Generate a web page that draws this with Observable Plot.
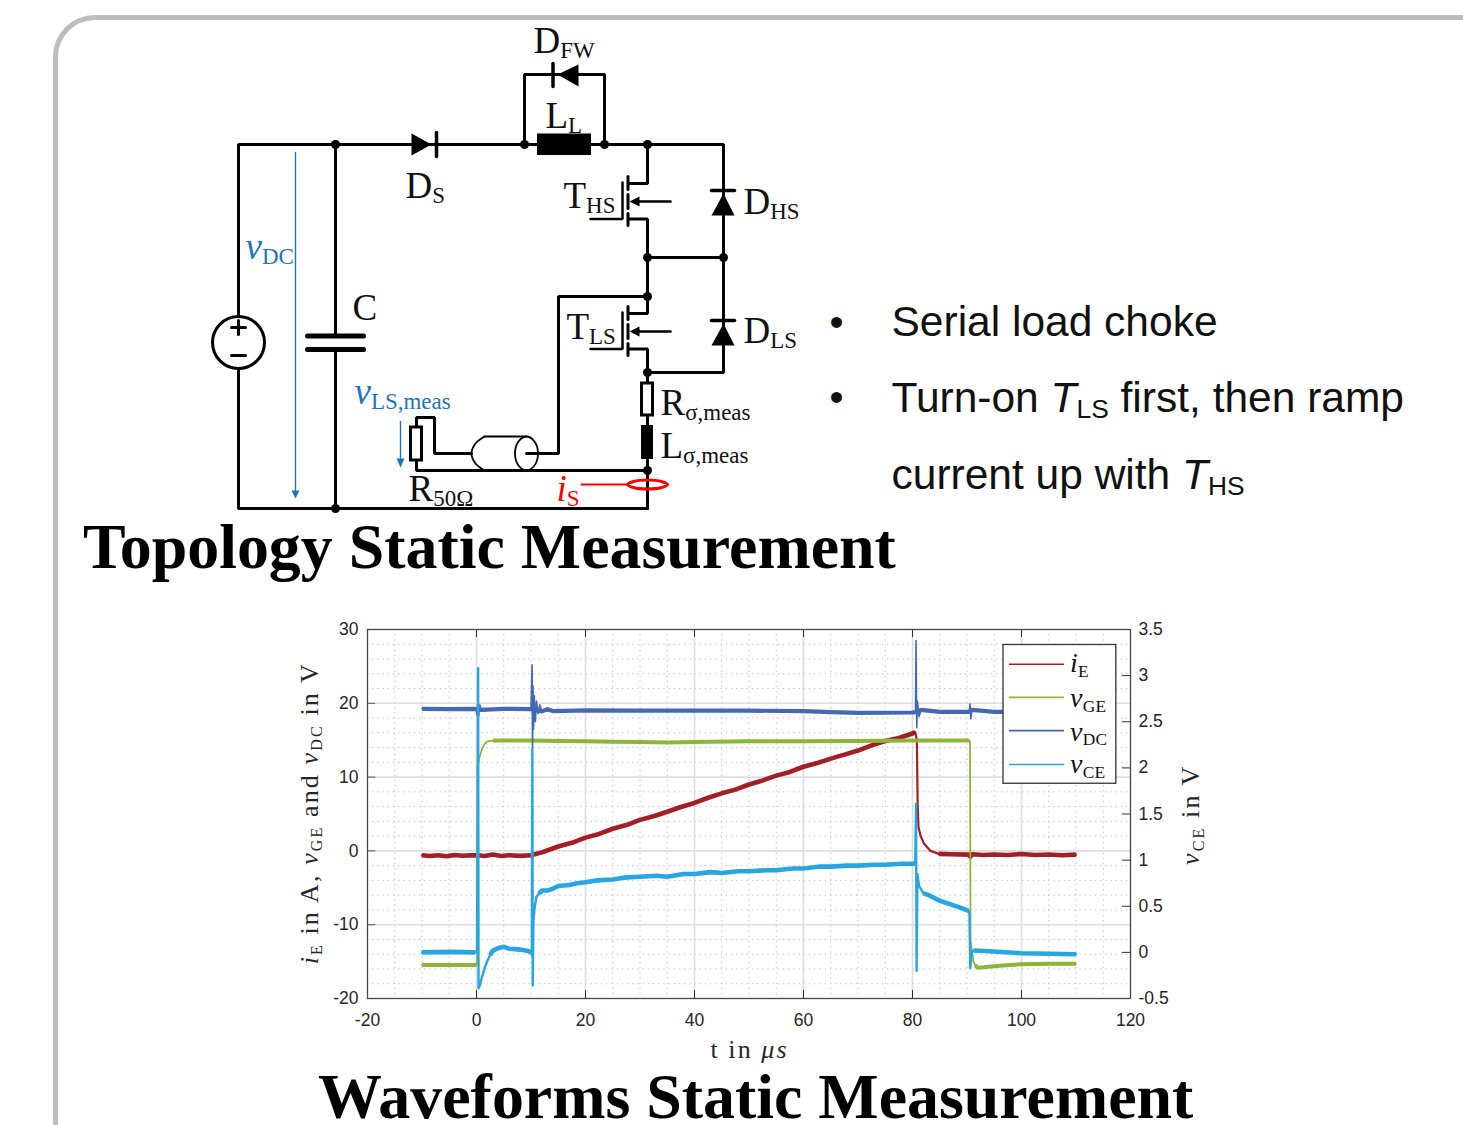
<!DOCTYPE html>
<html>
<head>
<meta charset="utf-8">
<script src="https://cdn.jsdelivr.net/npm/d3@7"></script>
<script src="https://cdn.jsdelivr.net/npm/@observablehq/plot@0.6"></script>
<style>
html,body{margin:0;padding:0;width:1463px;height:1125px;overflow:hidden;background:#fff}
#frame{position:absolute;left:53px;top:15px;width:2000px;height:2000px;border:5px solid #bdbdbd;border-radius:42px;box-sizing:border-box}
#top,#chart{position:absolute;left:0}
#top{top:0}
#chart{top:600px}
.heading{position:absolute;font-family:"Liberation Serif",serif;font-weight:bold;color:#000;white-space:nowrap;line-height:0.8}
</style>
</head>
<body>
<div id="frame"></div>
<div id="top"></div>
<div id="chart"></div>
<div class="heading" id="h1" style="left:83px;top:521px;font-size:63.9px">Topology Static Measurement</div>
<div class="heading" id="h2" style="left:318px;top:1071px;font-size:63.9px">Waveforms Static Measurement</div>
<script>
// ---------- waveform data: [t in µs, value] ----------
const iE = [[-10,-0.6],[-8.5,-0.7],[-7,-0.6],[-5.5,-0.72],[-4,-0.55],[-2.5,-0.66],[-1,-0.6],[0.3,-0.6],[1.5,-0.7],[3,-0.5],[4.5,-0.68],[6,-0.58],[8,-0.68],[10,-0.6],[10.3,-0.9],[10.5,-0.5],[12,-0.2],[15,0.6],[17.5,1.1],[20,1.8],[22.5,2.3],[25,3.0],[27.5,3.5],[30,4.2],[32.5,4.7],[35,5.3],[37.5,5.95],[40,6.5],[42.5,7.2],[45,7.8],[47.5,8.3],[50,9],[52.5,9.55],[55,10.2],[57.5,10.7],[60,11.4],[62.5,11.9],[65,12.5],[67.5,13.05],[70,13.6],[72.5,14.3],[75,14.9],[77.5,15.3],[80,15.9],[80.5,16.1],[80.8,15],[80.95,6],[81.1,3.2],[81.5,2],[82.1,1],[83.3,0],[84.8,-0.4],[87,-0.45],[90.4,-0.5],[90.6,-0.8],[91,-0.45],[93,-0.55],[95,-0.48],[97.5,-0.56],[100,-0.42],[102.5,-0.55],[105,-0.48],[107.5,-0.58],[110,-0.5]];
const vGE = [[-10,-15.45],[-5,-15.45],[0,-15.45],[0.1,-15],[0.2,11.3],[0.5,12.6],[1,13.8],[1.5,14.5],[2,14.85],[3,14.95],[8,14.95],[10,14.95],[15,14.9],[20,14.85],[25,14.8],[30,14.75],[35,14.7],[40,14.75],[50,14.85],[60,14.85],[70,14.9],[80,14.95],[85,14.95],[90.4,14.95],[90.55,14.9],[90.65,-12.2],[91.2,-15],[91.5,-15.5],[92,-15.85],[94,-15.7],[96,-15.55],[100,-15.35],[105,-15.3],[110,-15.3]];
const vDC = [[-10,19.25],[-5,19.2],[-0.1,19.25],[0.1,18.4],[0.25,20.1],[0.4,18.3],[0.6,19.8],[0.9,19.1],[5,19.25],[10,19.2],[10.2,25.2],[10.28,13.8],[10.36,22.4],[10.46,16.5],[10.6,21],[10.8,17.5],[11,20.3],[11.3,18.6],[11.6,19.8],[12,18.9],[13,19.2],[14,18.95],[20,19.05],[30,19.0],[40,19.0],[50,19.0],[60,18.95],[65,18.8],[70,18.7],[80,18.75],[80.55,18.8],[80.65,28.5],[80.78,16.7],[80.9,20.3],[81.2,18.2],[81.6,19.1],[85,18.85],[90.4,18.85],[90.55,19.9],[90.7,17.9],[90.9,19.1],[95,18.85],[110,18.85]];
const vCEvolts = [[-10,0],[-5,0.005],[-0.2,0],[0.1,0.02],[0.3,3.08],[0.38,-0.39],[0.6,-0.36],[1,-0.27],[1.5,-0.17],[2,-0.09],[2.5,-0.03],[3,0.02],[4,0.045],[5,0.06],[6,0.04],[7,0.035],[8,0.03],[9,0.02],[10,0.005],[10.15,-0.03],[10.25,2.2],[10.32,-0.36],[10.45,0.35],[10.7,0.5],[11,0.6],[11.5,0.64],[12,0.67],[13,0.67],[14,0.69],[15,0.72],[17,0.73],[18.5,0.75],[20,0.76],[22,0.78],[25,0.79],[27,0.81],[30,0.82],[33,0.83],[35,0.82],[38,0.85],[40,0.85],[43,0.87],[45,0.86],[48,0.88],[50,0.88],[53,0.89],[55,0.89],[58,0.91],[60,0.91],[63,0.93],[65,0.93],[68,0.94],[70,0.94],[73,0.95],[75,0.95],[78,0.96],[80,0.96],[80.5,0.96],[80.65,1.61],[80.75,-0.2],[80.9,0.85],[81.2,0.72],[82,0.64],[83,0.62],[85,0.56],[87,0.52],[89,0.48],[90.3,0.45],[90.45,0.42],[90.6,-0.17],[90.9,0],[91.2,0.02],[95,0.01],[100,-0.01],[105,-0.015],[110,-0.02]];

const iEQuiet  = [[-10,10.2],[10.5,80.5],[84,110]];
const vGEQuiet = [[-10,0],[3,90.4],[91.5,110]];
const vDCQuiet = [[-10,-0.1],[0.9,10],[12,80.55],[81.6,90.4],[90.9,110]];
const vCEQuiet = [[-10,0],[2.5,10],[11.5,80.5],[81.5,90.3],[91.2,110]];

// ---------- axes ----------
const xTicks = [-20,0,20,40,60,80,100,120];
const yTicks = [-20,-10,0,10,20,30];
const rightTicks = [-0.5,0,0.5,1,1.5,2,2.5,3,3.5];
const xMinor = [-15,-10,-5,5,10,15,25,30,35,45,50,55,65,70,75,85,90,95,105,110,115];
const yMinor = [-18,-16,-14,-12,-8,-6,-4,-2,2,4,6,8,12,14,16,18,22,24,26,28];

const colors = {iE:"#a31f27", vGE:"#8cb638", vDC:"#4468b4", vCE:"#27a6e2"};
const legendNames = ["i_{E}","v_{GE}","v_{DC}","v_{CE}"];
const legendKeys = ["iE","vGE","vDC","vCE"];
const legendY = [25.3,20.8,16.3,11.7];
const legendTextY = [24.2,19.5,14.9,10.5];

// ---------- schematic (page pixels) ----------
const wires = [
 [[238,316],[238,144],[723,144],[723,372],[647,372]],
 [[238,368],[238,508],[647,508]],
 [[335,144],[335,334]],[[335,349],[335,508]],
 [[524,144],[524,74],[604,74],[604,144]],
 [[647,144],[647,183],[628,183]],
 [[628,218.5],[647,218.5],[647,313],[628,313]],
 [[628,348.5],[647,348.5],[647,383]],
 [[647,415],[647,425]],[[647,459],[647,508]],
 [[647,257],[723,257]],
 [[647,296],[558,296],[558,453],[526,453]],
 [[416,427],[416,417],[434,417],[434,453],[471,453]],
 [[416,460],[416,470],[647,470]]
];
const gateBars = [
 [[622,182],[622,218.5],[590,218.5]],
 [[622,312],[622,348.5],[590,348.5]],
 [[670,201],[636,201]],[[670,331],[636,331]]
];
const channelBars = [
 [[627.5,176],[627.5,189]],[[627.5,194],[627.5,208]],[[627.5,213],[627.5,225]],
 [[627.5,306],[627.5,319]],[[627.5,324],[627.5,338]],[[627.5,343],[627.5,355]]
];
const plates = [[[307,335.5],[363,335.5]],[[307,349],[363,349]]];
const diodeBars = [[[436,132],[436,156]],[[552.5,63],[552.5,86]],[[711,190],[734,190]],[[711,320],[734,320]]];
const triangles = [
 [[411,133],[431,144],[411,155]],
 [[578,64],[557,74],[578,86]],
 [[723,193],[734,215],[711,215]],
 [[723,323],[734,345],[711,345]],
 [[629,201],[639,196],[639,206]],
 [[629,331],[639,326],[639,336]]
];
const blackRects = [[537,133.5,591,155],[641,425,653,459]];
const openRects = [[641.5,383,652.5,415],[410.5,427,421.5,460]];
const junctions = [[335,144],[335,508],[524,144],[604,144],[647,144],[647,257],[723,257],[647,296],[647,372],[647,470]];
const signs = [[[231,327],[245,327]],[[238,320],[238,334]],[[231,355],[245,355]]];
const cableLines = [[[484,436],[526,436]],[[484,470],[526,470]]];
const cableEnd = [[526,436],[534,441],[537.5,453],[534,465],[526,470],[518,465],[514.5,453],[518,441]];
const cableBack = [[484,436],[475,443],[471,453],[475,463],[484,470]];
const ring = [[647,479.5],[661,481],[667,484],[661,487],[647,488.5],[633,487],[627,484],[633,481]];
const redWire = [[[581,484],[627,484]]];
const blueArrows = [[[295,152],[295,492]],[[400,421],[400,460]]];
const blueHeads = [[[291,490],[299,490],[295,498]],[[396,458],[404,458],[400,467]]];

const blackLabels = [
 [533,52,"D_{FW}"],[545,127,"L_{L}"],[405,197,"D_{S}"],[563,207,"T_{HS}"],[743,213,"D_{HS}"],
 [352,319,"C"],[566,338,"T_{LS}"],[743,342,"D_{LS}"],[660,414,"R_{σ,meas}"],[660,457,"L_{σ,meas}"],[408,500,"R_{50Ω}"]
];
const blueLabels = [[245,258,"*v*_{DC}"],[354,403,"*v*_{LS,meas}"]];
const redLabels = [[556,500,"*i*_{S}"]];
const bulletMarks = [[829,335,"•"],[829,410,"•"]];
const bulletLines = [[891,335,"Serial load choke"],[891,411,"Turn-on *T*_{LS} first, then ramp"],[891,488,"current up with *T*_{HS}"]];

// ---------- helpers ----------
const svgNS = "http://www.w3.org/2000/svg";
const richText = (spacing = 0) => function (index, scales, values, dims, ctx, next) {
  const g = next(index, scales, values, dims, ctx);
  d3.select(g).selectAll("text").each(function () {
    const src = this.textContent;
    this.textContent = "";
    if (spacing) this.style.letterSpacing = spacing + "px";
    const parts = src.split(/(\*[^*]+\*|_\{[^}]+\})/).filter(s => s !== "");
    let afterSub = false;
    for (const p of parts) {
      const t = document.createElementNS(svgNS, "tspan");
      if (p.startsWith("_{")) {
        t.textContent = p.slice(2, -1);
        t.setAttribute("font-size", "62%");
        t.setAttribute("dy", "0.26em");
        afterSub = true;
      } else {
        if (p.startsWith("*")) { t.textContent = p.slice(1, -1); t.setAttribute("font-style", "italic"); }
        else t.textContent = p;
        if (afterSub) { t.setAttribute("dy", "-0.16em"); afterSub = false; }
      }
      this.appendChild(t);
    }
  });
  return g;
};
const pts = list => list.flatMap((line, i) => line.map(([x, y]) => ({x, y, z: i})));
const labelMark = (list, o) => Plot.text(list, {x: d => d[0], y: d => d[1], text: d => d[2], textAnchor: "start", lineAnchor: "bottom", render: richText(), ...o});
const wire = (list, o) => Plot.line(pts(list), {x: "x", y: "y", z: "z", stroke: "#000", strokeWidth: 3, strokeLinejoin: "miter", curve: "linear", ...o});

// ---------- schematic plot ----------
const serif = '"Liberation Serif",serif';
const topPlot = Plot.plot({
  width: 1463, height: 530, margin: 0,
  x: {domain: [0, 1463], range: [0, 1463], axis: null},
  y: {domain: [0, 530], range: [0, 530], axis: null},
  style: {background: "transparent"},
  marks: [
    wire(wires),
    wire(plates, {strokeWidth: 5}),
    wire(diodeBars, {strokeWidth: 3.5}),
    wire(gateBars, {strokeWidth: 2.5}),
    wire(channelBars, {strokeWidth: 3}),
    Plot.line(pts(triangles), {x: "x", y: "y", z: "z", fill: "#000", stroke: "none"}),
    Plot.rect(blackRects, {x1: d => d[0], y1: d => d[1], x2: d => d[2], y2: d => d[3], fill: "#000"}),
    Plot.rect(openRects, {x1: d => d[0], y1: d => d[1], x2: d => d[2], y2: d => d[3], fill: "#fff", stroke: "#000", strokeWidth: 3}),
    Plot.dot(junctions, {x: d => d[0], y: d => d[1], r: 4.5, fill: "#000", stroke: "none"}),
    Plot.dot([[238, 342]], {x: d => d[0], y: d => d[1], r: 26, fill: "#fff", stroke: "#000", strokeWidth: 3}),
    wire(signs, {strokeWidth: 3}),
    wire(cableLines, {strokeWidth: 1.8}),
    Plot.line(cableBack, {x: d => d[0], y: d => d[1], stroke: "#000", strokeWidth: 1.8, curve: "catmull-rom"}),
    Plot.line(cableEnd, {x: d => d[0], y: d => d[1], stroke: "#000", strokeWidth: 1.8, curve: "catmull-rom-closed"}),
    wire(redWire, {stroke: "#f00", strokeWidth: 2}),
    Plot.line(ring, {x: d => d[0], y: d => d[1], stroke: "#f00", strokeWidth: 3, curve: "catmull-rom-closed"}),
    wire(blueArrows, {stroke: "#1c75bc", strokeWidth: 1.4}),
    Plot.line(pts(blueHeads), {x: "x", y: "y", z: "z", fill: "#1c75bc", stroke: "none"}),
    labelMark(blackLabels, {fill: "#111", fontFamily: serif, fontSize: 37}),
    labelMark(blueLabels, {fill: "#1c75bc", fontFamily: serif, fontSize: 37}),
    labelMark(redLabels, {fill: "#f00", fontFamily: serif, fontSize: 37}),
    labelMark(bulletMarks, {fill: "#111", fontFamily: '"Liberation Sans",sans-serif', fontSize: 40}),
    labelMark(bulletLines, {fill: "#111", fontFamily: '"Liberation Sans",sans-serif', fontSize: 42.5})
  ]
});
document.getElementById("top").appendChild(topPlot);

// ---------- waveform plot ----------
const toLeft = v => (v + 0.5) * 12.5 - 20;
const vCE = vCEvolts.map(([t, v]) => [t, toLeft(v)]);
const rows = (series) => series.map(([t, v]) => ({t, v}));
const quietRows = (series, windows) => windows.flatMap(w =>
  series.filter(([t]) => t >= w[0] && t <= w[1]).map(([t, v]) => ({t, v})));
const quietGaps = (series, windows) => windows.flatMap((w, i) =>
  series.filter(([t]) => t >= w[0] && t <= w[1]).map(([t, v]) => ({t, v, z: i})));
const thin = (s, c, w) => Plot.line(rows(s), {x: "t", y: "v", stroke: c, strokeWidth: w, curve: "linear"});
const thick = (s, q, c, w) => Plot.line(quietGaps(s, q), {x: "t", y: "v", z: "z", stroke: c, strokeWidth: w, strokeLinecap: "butt", curve: "linear"});
const thickBridged = (s, q, c, w) => Plot.line(quietRows(s, q), {x: "t", y: "v", stroke: c, strokeWidth: w, strokeLinecap: "butt", curve: "linear"});

const axisFont = '"Liberation Sans",sans-serif';
const tickFont = {fontFamily: axisFont, fontSize: 17.5, fill: "#262626"};
const labelFont = {fontFamily: serif, fontSize: 26, fill: "#262626", lineAnchor: "middle", textAnchor: "middle", render: richText(2.1)};
const chart = Plot.plot({
  width: 1463, height: 465,
  marginTop: 29, marginBottom: 67, marginLeft: 367, marginRight: 333,
  x: {domain: [-20, 120]},
  y: {domain: [-20, 30]},
  style: {background: "transparent"},
  marks: [
    Plot.ruleX(xMinor, {stroke: "#bdbdbd", strokeDasharray: "1.2,4"}),
    Plot.ruleY(yMinor, {stroke: "#bdbdbd", strokeDasharray: "1.2,4"}),
    Plot.ruleX(xTicks, {stroke: "#dedede", strokeWidth: 1.6}),
    Plot.ruleY(yTicks, {stroke: "#dedede", strokeWidth: 1.6}),
    thin(iE, colors.iE, 2.2), thick(iE, iEQuiet, colors.iE, 4.6),
    thin(vGE, colors.vGE, 1.8), thick(vGE, vGEQuiet, colors.vGE, 4),
    thin(vDC, colors.vDC, 1.6), thickBridged(vDC, vDCQuiet, colors.vDC, 4.2),
    thin(vCE, colors.vCE, 2.4), thick(vCE, vCEQuiet, colors.vCE, 4.6),
    Plot.ruleX(xTicks, {y1: -20, y2: -18.9, stroke: "#333"}),
    Plot.ruleX(xTicks, {y1: 30, y2: 28.9, stroke: "#333"}),
    Plot.ruleY(yTicks, {x1: -20, x2: -18.5, stroke: "#555"}),
    Plot.ruleY(rightTicks.map(toLeft), {x1: 120, x2: 118.5, stroke: "#333"}),
    Plot.frame({stroke: "#444", strokeWidth: 1.2}),
    Plot.axisX(xTicks, {anchor: "bottom", tickSize: 0, tickPadding: 15, label: null, tickFormat: d => String(d), ...tickFont}),
    Plot.axisY(yTicks, {anchor: "left", tickSize: 0, tickPadding: 9, label: null, tickFormat: d => String(d), ...tickFont}),
    Plot.axisY(rightTicks.map(toLeft), {anchor: "right", tickSize: 0, tickPadding: 8, label: null, tickFormat: d => String(+((d + 20) / 12.5 - 0.5).toFixed(1)), ...tickFont}),
    Plot.rect([[96.7, 27.9, 117.4, 9.1]], {x1: d => d[0], y1: d => d[1], x2: d => d[2], y2: d => d[3], fill: "#fff", stroke: "#333", strokeWidth: 1.3}),
    Plot.ruleY(legendKeys.map((k, i) => ({k, y: legendY[i]})), {y: "y", x1: 97.8, x2: 107.9, stroke: d => colors[d.k], strokeWidth: 1.6}),
    Plot.text(legendNames.map((n, i) => ({n: n.replace(/^(.)/, "*$1*"), y: legendTextY[i]})), {x: 108.9, y: "y", text: "n", textAnchor: "start", lineAnchor: "bottom", fontFamily: serif, fontSize: 28, fill: "#111", render: richText(0.3)}),
    Plot.text(["*i*_{E} in A, *v*_{GE} and *v*_{DC} in V"], {x: -30.7, y: 5.1, text: d => d, rotate: -90, ...labelFont}),
    Plot.text(["*v*_{CE} in V"], {x: 131.1, y: 4.9, text: d => d, rotate: -90, ...labelFont}),
    Plot.text(["t in *μs*"], {x: 50.1, y: -27, text: d => d, ...labelFont})
  ]
});
document.getElementById("chart").appendChild(chart);
</script>
</body>
</html>
